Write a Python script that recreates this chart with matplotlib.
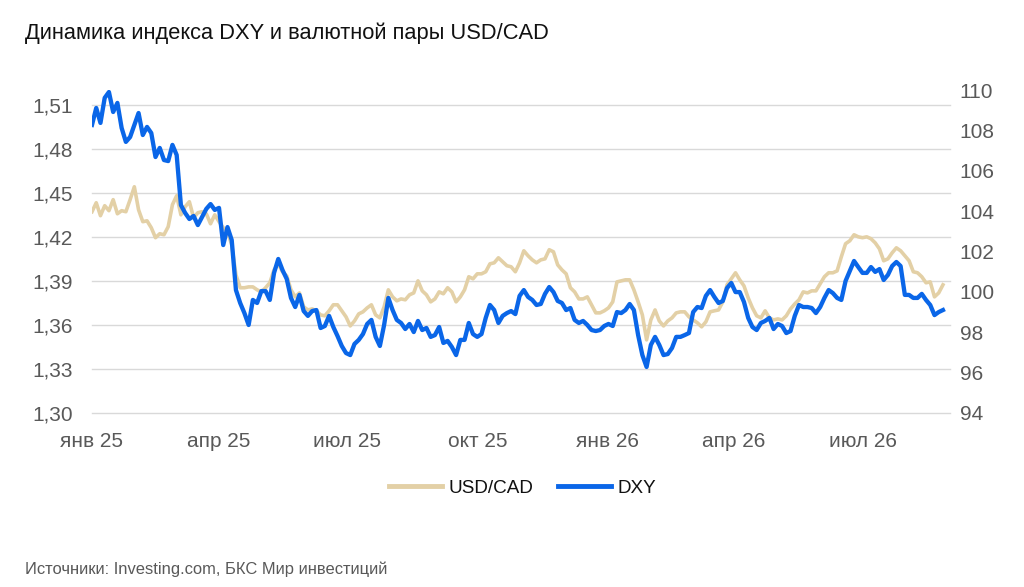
import numpy as np
import pandas as pd
import matplotlib
matplotlib.use("Agg")
import matplotlib.pyplot as plt
from matplotlib.lines import Line2D

plt.rcParams['font.family'] = ['Liberation Sans', 'DejaVu Sans']

title = "Динамика индекса DXY и валютной пары USD/CAD"
source = "Источники: Investing.com, БКС Мир инвестиций"
series_names = ["USD/CAD", "DXY"]

# observation dates: every 3 days from 1 Jan 2025
dates = pd.date_range("2025-01-01", periods=202, freq="3D")

dxy = [
    108.27, 109.11, 108.37, 109.61, 109.90, 108.91, 109.36, 108.12, 107.43, 107.67,
    108.27, 108.86, 107.77, 108.17, 107.87, 106.68, 107.13, 106.53, 106.48, 107.28,
    106.78, 104.30, 103.91, 103.61, 103.76, 103.31, 103.71, 104.11, 104.35, 104.06,
    104.16, 102.32, 103.21, 102.57, 100.09, 99.45, 98.95, 98.36, 99.60, 99.45,
    100.04, 100.04, 99.60, 100.94, 101.63, 101.08, 100.64, 99.70, 99.25, 99.85,
    99.05, 98.81, 99.05, 99.10, 98.21, 98.31, 98.81, 98.26, 97.81, 97.32,
    96.97, 96.87, 97.42, 97.62, 97.91, 98.41, 98.61, 97.77, 97.32, 98.36,
    99.70, 99.10, 98.61, 98.46, 98.16, 98.41, 98.01, 98.56, 98.11, 98.21,
    97.77, 97.86, 98.26, 97.47, 97.57, 97.27, 96.87, 97.62, 97.62, 98.46,
    97.91, 97.77, 97.91, 98.71, 99.35, 99.10, 98.46, 98.81, 98.95, 99.05,
    98.90, 99.80, 100.09, 99.75, 99.60, 99.35, 99.40, 99.90, 100.24, 99.99,
    99.55, 99.45, 99.10, 99.20, 98.61, 98.46, 98.56, 98.36, 98.11, 98.06,
    98.11, 98.31, 98.41, 98.31, 99.00, 98.95, 99.10, 99.40, 99.10, 97.86,
    96.87, 96.28, 97.37, 97.77, 97.37, 96.87, 96.92, 97.22, 97.77, 97.77,
    97.86, 97.96, 99.00, 99.25, 99.20, 99.80, 100.09, 99.75, 99.45, 99.55,
    100.19, 100.44, 99.99, 99.99, 99.50, 98.71, 98.26, 98.11, 98.46, 98.56,
    98.71, 98.16, 98.41, 98.31, 97.96, 98.06, 98.81, 99.35, 99.25, 99.25,
    99.20, 98.95, 99.25, 99.70, 100.09, 99.94, 99.70, 99.60, 100.54, 101.03,
    101.53, 101.23, 100.94, 100.94, 101.23, 100.99, 101.13, 100.59, 100.84, 101.28,
    101.48, 101.28, 99.85, 99.85, 99.70, 99.70, 99.90, 99.60, 99.35, 98.85,
    99.00, 99.10,
]

usdcad = [
    1.4371, 1.4432, 1.4344, 1.4412, 1.4378, 1.4453, 1.4357, 1.4378, 1.4371, 1.4453,
    1.4541, 1.4384, 1.4303, 1.4309, 1.4262, 1.4194, 1.4221, 1.4214, 1.4269, 1.4419,
    1.4480, 1.4350, 1.4405, 1.4439, 1.4330, 1.4364, 1.4371, 1.4357, 1.4289, 1.4350,
    1.4303, 1.4262, 1.4234, 1.4146, 1.3941, 1.3853, 1.3853, 1.3859, 1.3859, 1.3839,
    1.3825, 1.3853, 1.3887, 1.3975, 1.4016, 1.3962, 1.3934, 1.3839, 1.3791, 1.3818,
    1.3723, 1.3702, 1.3709, 1.3696, 1.3668, 1.3662, 1.3696, 1.3737, 1.3737, 1.3696,
    1.3655, 1.3593, 1.3627, 1.3675, 1.3689, 1.3716, 1.3737, 1.3668, 1.3648, 1.3723,
    1.3839, 1.3791, 1.3764, 1.3777, 1.3771, 1.3805, 1.3818, 1.3900, 1.3832, 1.3805,
    1.3757, 1.3777, 1.3825, 1.3812, 1.3853, 1.3825, 1.3757, 1.3791, 1.3839, 1.3928,
    1.3914, 1.3948, 1.3948, 1.3962, 1.4016, 1.4023, 1.4057, 1.4030, 1.4003, 1.3996,
    1.3962, 1.4023, 1.4105, 1.4071, 1.4043, 1.4023, 1.4043, 1.4050, 1.4112, 1.4098,
    1.4009, 1.3975, 1.3948, 1.3853, 1.3825, 1.3777, 1.3777, 1.3791, 1.3737, 1.3682,
    1.3682, 1.3696, 1.3716, 1.3757, 1.3893, 1.3900, 1.3907, 1.3907, 1.3839, 1.3757,
    1.3668, 1.3498, 1.3634, 1.3702, 1.3627, 1.3593, 1.3627, 1.3648, 1.3682, 1.3689,
    1.3689, 1.3655, 1.3634, 1.3614, 1.3587, 1.3621, 1.3689, 1.3696, 1.3702, 1.3757,
    1.3873, 1.3914, 1.3955, 1.3907, 1.3866, 1.3784, 1.3716, 1.3662, 1.3648, 1.3696,
    1.3648, 1.3634, 1.3641, 1.3634, 1.3662, 1.3709, 1.3743, 1.3771, 1.3825, 1.3818,
    1.3832, 1.3832, 1.3880, 1.3928, 1.3955, 1.3955, 1.3968, 1.4064, 1.4153, 1.4173,
    1.4214, 1.4200, 1.4194, 1.4200, 1.4187, 1.4159, 1.4118, 1.4037, 1.4050, 1.4091,
    1.4125, 1.4105, 1.4071, 1.4037, 1.3962, 1.3955, 1.3928, 1.3887, 1.3893, 1.3791,
    1.3818, 1.3873,
]

left_ticks = [1.30, 1.33, 1.36, 1.39, 1.42, 1.45, 1.48, 1.51]
right_ticks = [94, 96, 98, 100, 102, 104, 106, 108, 110]
x_tick_dates = ["2025-01-01", "2025-04-01", "2025-07-01", "2025-10-01",
                "2026-01-01", "2026-04-01", "2026-07-01"]
x_tick_labels = ["янв 25", "апр 25", "июл 25", "окт 25", "янв 26", "апр 26", "июл 26"]

C_CAD = "#E3D0A6"
C_DXY = "#0A66E8"
GRAY = "#595959"

fig = plt.figure(figsize=(10.24, 5.87), dpi=100)
ax = fig.add_axes([92 / 1024, 1 - 413 / 587, (950 - 92) / 1024, (413 - 90) / 587])
ax2 = ax.twinx()

ax.plot(dates, usdcad, color=C_CAD, lw=2.6, solid_joinstyle="round")
ax2.plot(dates, dxy, color=C_DXY, lw=3.1, solid_joinstyle="round")

ax.set_ylim(1.30, 1.52)
ax2.set_ylim(94, 110)
ax.set_xlim(pd.Timestamp("2025-01-01"), pd.Timestamp("2025-01-01") + pd.Timedelta(days=608))

ax.set_yticks(left_ticks)
ax.set_yticklabels([f"{v:.2f}".replace(".", ",") for v in left_ticks])
ax2.set_yticks(right_ticks)
ax2.set_yticklabels([str(v) for v in right_ticks])
ax.set_xticks(pd.to_datetime(x_tick_dates))
ax.set_xticklabels(x_tick_labels)

ax.yaxis.grid(True, color="#D9D9D9", lw=1.0)
ax.set_axisbelow(True)
for gl in ax.get_ygridlines():
    gl.set_clip_on(False)
for a in (ax, ax2):
    for s in a.spines.values():
        s.set_visible(False)
ax.tick_params(axis="y", length=0, pad=14, labelsize=15, labelcolor=GRAY)
ax.tick_params(axis="x", length=0, pad=14, labelsize=15, labelcolor=GRAY)
ax2.tick_params(axis="y", length=0, pad=7, labelsize=15, labelcolor=GRAY)

fig.text(25 / 1024, 1 - 33 / 587, title, fontsize=15.75, color="#111111", va="center", ha="left")
fig.text(25 / 1024, 1 - 569 / 587, source, fontsize=11.9, color=GRAY, va="center", ha="left")

handles = [Line2D([], [], color=C_CAD, lw=3.5), Line2D([], [], color=C_DXY, lw=3.5)]
fig.legend(handles, series_names, loc="center", bbox_to_anchor=(523 / 1024, 1 - 488 / 587),
           ncol=2, frameon=False, fontsize=13.6, handlelength=2.8, handletextpad=0.35,
           columnspacing=1.3, labelcolor="#111111")

fig.savefig("out.png", dpi=100)
